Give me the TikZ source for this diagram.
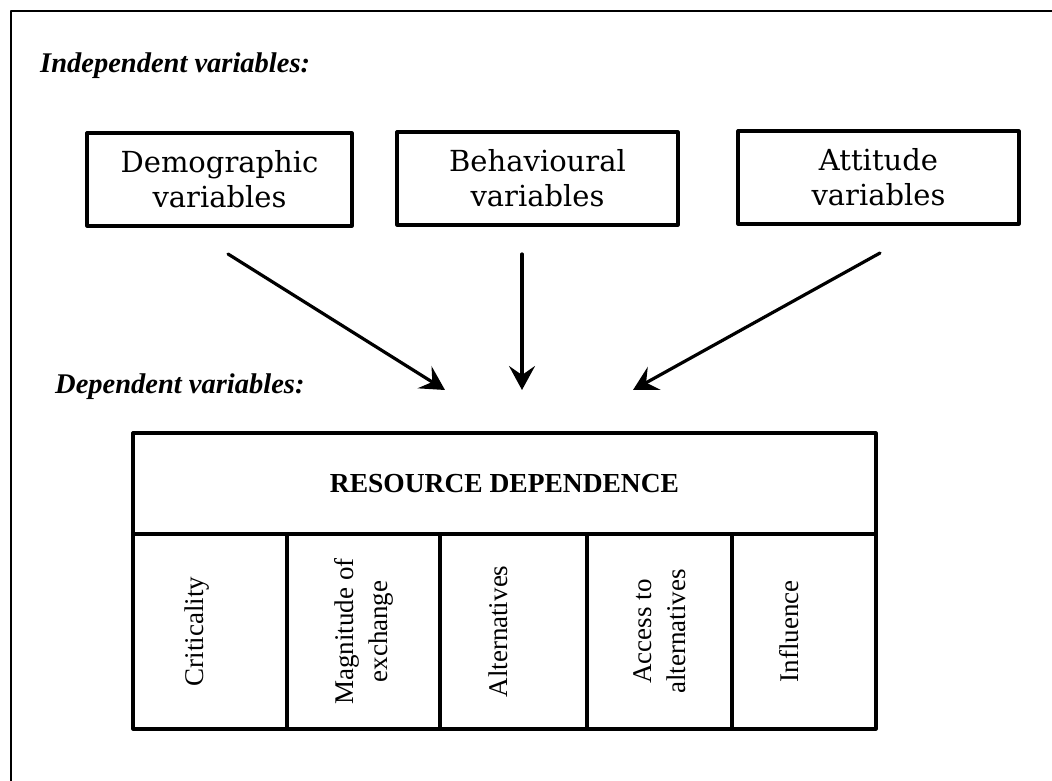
\documentclass[tikz,border=0pt]{standalone}
\usepackage{fontspec}
\setmainfont{Liberation Serif}
\newfontfamily\boxfont{DejaVu Serif}
\usepackage{tikz}
\usetikzlibrary{arrows.meta,positioning}

\begin{document}
\begin{tikzpicture}[line cap=round,line join=round,>={Stealth[length=24pt,width=26pt,inset=9pt]},x=1pt,y=-1pt,
varbox/.style={draw,line width=3.2pt,minimum height=93pt,inner sep=0pt,align=center,font=\boxfont\fontsize{29}{35}\selectfont},
cell/.style={draw,line width=3.2pt,inner sep=0pt},
coltext/.style={rotate=90,align=center,inner sep=0pt,font=\fontsize{27}{34}\selectfont},
heading/.style={font=\bfseries\itshape\fontsize{28.5}{32}\selectfont,inner sep=0pt}]

\useasboundingbox (0,0) rectangle (1052,781);
\draw [line width=2.2pt](11,781)-- (11,11)-- (1052,11);

\node[heading,anchor=base west] (indep) at (40,73) {Independent variables:};
\node[heading,anchor=base west] (dep) at (55,393) {Dependent variables:};

\node[varbox,minimum width=265pt] (demo) at (219.5,179.5) {Demographic\\variables};
\node[varbox,minimum width=281pt] (behav) at (537.5,178.5) {Behavioural\\variables};
\node[varbox,minimum width=281pt] (atti) at (878.5,177.5) {Attitude\\variables};

\coordinate (demoout) at (228,254);
\coordinate (behavout) at (522,254);
\coordinate (attiout) at (880,253);
\coordinate (demoin) at (445,390);
\coordinate (behavin) at (522,390);
\coordinate (attiin) at (633,390);
\draw [->,line width=3.2pt](demoout)-- (demoin);
\draw [->,line width=3.2pt](behavout)-- (behavin);
\draw [->,line width=3.2pt](attiout)-- (attiin);

\node[cell,minimum width=743pt,minimum height=101pt,font=\bfseries\fontsize{27.5}{30}\selectfont] (head) at (504.5,483.5) {RESOURCE DEPENDENCE};
\node[cell,minimum width=154pt,minimum height=195pt] (c1) at (210,631.5) {};
\node[cell,minimum width=153pt,minimum height=195pt] (c2) at (363.5,631.5) {};
\node[cell,minimum width=147pt,minimum height=195pt] (c3) at (513.5,631.5) {};
\node[cell,minimum width=145pt,minimum height=195pt] (c4) at (659.5,631.5) {};
\node[cell,minimum width=144pt,minimum height=195pt] (c5) at (804,631.5) {};
\node[coltext] (t1) at ([xshift=-13pt]c1.center) {Criticality};
\node[coltext] (t2) at (c2.center) {Magnitude of\\exchange};
\node[coltext] (t3) at ([xshift=-15pt]c3.center) {Alternatives};
\node[coltext] (t4) at (c4.center) {Access to\\alternatives};
\node[coltext] (t5) at ([xshift=-15pt]c5.center) {Influence};
\end{tikzpicture}
\end{document}
